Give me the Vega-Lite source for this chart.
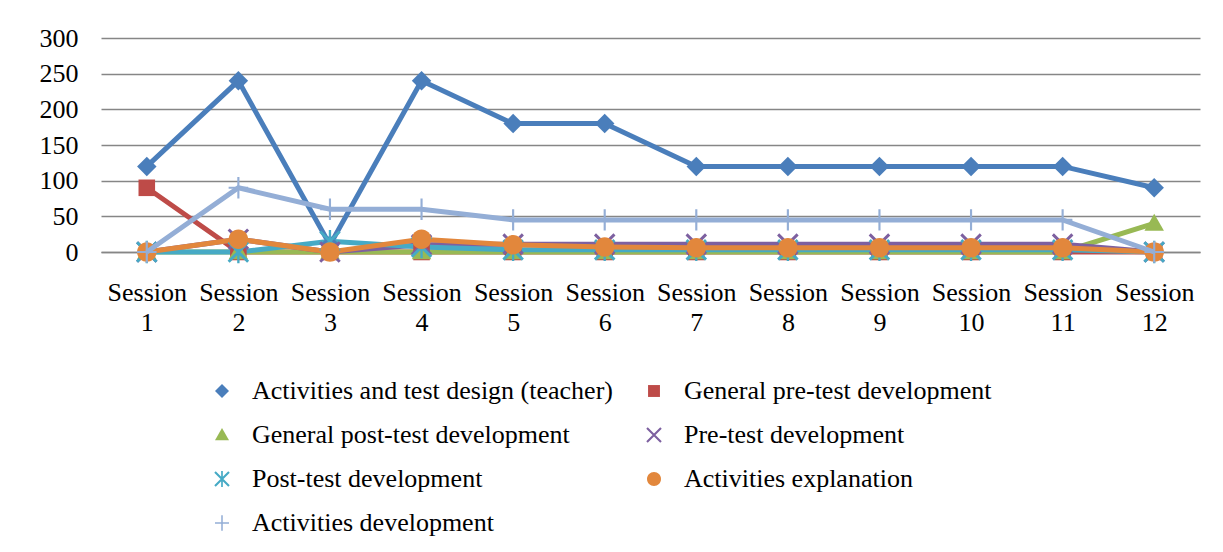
{
  "$schema": "https://vega.github.io/schema/vega-lite/v6.json",
  "width": 1099,
  "height": 214,
  "autosize": {"type": "none"},
  "padding": {"left": 101, "top": 38, "right": 23, "bottom": 300},
  "background": "white",
  "config": {
    "font": "Liberation Serif",
    "view": {"stroke": null},
    "axis": {"labelFont": "Liberation Serif", "labelFontSize": 26, "labelColor": "#000000", "titleFontSize": 26},
    "legend": {"labelFont": "Liberation Serif", "labelFontSize": 26, "labelColor": "#000000", "symbolOpacity": 1, "labelLimit": 800, "symbolStrokeWidth": 0}
  },
  "data": {
    "values": [
      {"session": "Session 1", "series": "Activities and test design (teacher)", "value": 120},
      {"session": "Session 2", "series": "Activities and test design (teacher)", "value": 240},
      {"session": "Session 3", "series": "Activities and test design (teacher)", "value": 10},
      {"session": "Session 4", "series": "Activities and test design (teacher)", "value": 240},
      {"session": "Session 5", "series": "Activities and test design (teacher)", "value": 180},
      {"session": "Session 6", "series": "Activities and test design (teacher)", "value": 180},
      {"session": "Session 7", "series": "Activities and test design (teacher)", "value": 120},
      {"session": "Session 8", "series": "Activities and test design (teacher)", "value": 120},
      {"session": "Session 9", "series": "Activities and test design (teacher)", "value": 120},
      {"session": "Session 10", "series": "Activities and test design (teacher)", "value": 120},
      {"session": "Session 11", "series": "Activities and test design (teacher)", "value": 120},
      {"session": "Session 12", "series": "Activities and test design (teacher)", "value": 90},
      {"session": "Session 1", "series": "General pre-test development", "value": 90},
      {"session": "Session 2", "series": "General pre-test development", "value": 0},
      {"session": "Session 3", "series": "General pre-test development", "value": 0},
      {"session": "Session 4", "series": "General pre-test development", "value": 0},
      {"session": "Session 5", "series": "General pre-test development", "value": 0},
      {"session": "Session 6", "series": "General pre-test development", "value": 0},
      {"session": "Session 7", "series": "General pre-test development", "value": 0},
      {"session": "Session 8", "series": "General pre-test development", "value": 0},
      {"session": "Session 9", "series": "General pre-test development", "value": 0},
      {"session": "Session 10", "series": "General pre-test development", "value": 0},
      {"session": "Session 11", "series": "General pre-test development", "value": 0},
      {"session": "Session 12", "series": "General pre-test development", "value": 0},
      {"session": "Session 1", "series": "General post-test development", "value": 0},
      {"session": "Session 2", "series": "General post-test development", "value": 0},
      {"session": "Session 3", "series": "General post-test development", "value": 0},
      {"session": "Session 4", "series": "General post-test development", "value": 0},
      {"session": "Session 5", "series": "General post-test development", "value": 0},
      {"session": "Session 6", "series": "General post-test development", "value": 0},
      {"session": "Session 7", "series": "General post-test development", "value": 0},
      {"session": "Session 8", "series": "General post-test development", "value": 0},
      {"session": "Session 9", "series": "General post-test development", "value": 0},
      {"session": "Session 10", "series": "General post-test development", "value": 0},
      {"session": "Session 11", "series": "General post-test development", "value": 0},
      {"session": "Session 12", "series": "General post-test development", "value": 40},
      {"session": "Session 1", "series": "Pre-test development", "value": 0},
      {"session": "Session 2", "series": "Pre-test development", "value": 18},
      {"session": "Session 3", "series": "Pre-test development", "value": 0},
      {"session": "Session 4", "series": "Pre-test development", "value": 10},
      {"session": "Session 5", "series": "Pre-test development", "value": 11},
      {"session": "Session 6", "series": "Pre-test development", "value": 11},
      {"session": "Session 7", "series": "Pre-test development", "value": 11},
      {"session": "Session 8", "series": "Pre-test development", "value": 11},
      {"session": "Session 9", "series": "Pre-test development", "value": 11},
      {"session": "Session 10", "series": "Pre-test development", "value": 11},
      {"session": "Session 11", "series": "Pre-test development", "value": 11},
      {"session": "Session 12", "series": "Pre-test development", "value": 0},
      {"session": "Session 1", "series": "Post-test development", "value": 0},
      {"session": "Session 2", "series": "Post-test development", "value": 0},
      {"session": "Session 3", "series": "Post-test development", "value": 15},
      {"session": "Session 4", "series": "Post-test development", "value": 7},
      {"session": "Session 5", "series": "Post-test development", "value": 3},
      {"session": "Session 6", "series": "Post-test development", "value": 3},
      {"session": "Session 7", "series": "Post-test development", "value": 3},
      {"session": "Session 8", "series": "Post-test development", "value": 3},
      {"session": "Session 9", "series": "Post-test development", "value": 3},
      {"session": "Session 10", "series": "Post-test development", "value": 3},
      {"session": "Session 11", "series": "Post-test development", "value": 3},
      {"session": "Session 12", "series": "Post-test development", "value": 0},
      {"session": "Session 1", "series": "Activities explanation", "value": 0},
      {"session": "Session 2", "series": "Activities explanation", "value": 18},
      {"session": "Session 3", "series": "Activities explanation", "value": 0},
      {"session": "Session 4", "series": "Activities explanation", "value": 18},
      {"session": "Session 5", "series": "Activities explanation", "value": 10},
      {"session": "Session 6", "series": "Activities explanation", "value": 7},
      {"session": "Session 7", "series": "Activities explanation", "value": 6},
      {"session": "Session 8", "series": "Activities explanation", "value": 6},
      {"session": "Session 9", "series": "Activities explanation", "value": 6},
      {"session": "Session 10", "series": "Activities explanation", "value": 6},
      {"session": "Session 11", "series": "Activities explanation", "value": 6},
      {"session": "Session 12", "series": "Activities explanation", "value": 0},
      {"session": "Session 1", "series": "Activities development", "value": 0},
      {"session": "Session 2", "series": "Activities development", "value": 90},
      {"session": "Session 3", "series": "Activities development", "value": 60},
      {"session": "Session 4", "series": "Activities development", "value": 60},
      {"session": "Session 5", "series": "Activities development", "value": 45},
      {"session": "Session 6", "series": "Activities development", "value": 45},
      {"session": "Session 7", "series": "Activities development", "value": 45},
      {"session": "Session 8", "series": "Activities development", "value": 45},
      {"session": "Session 9", "series": "Activities development", "value": 45},
      {"session": "Session 10", "series": "Activities development", "value": 45},
      {"session": "Session 11", "series": "Activities development", "value": 45},
      {"session": "Session 12", "series": "Activities development", "value": 0}
    ]
  },
  "encoding": {
    "x": {
      "field": "session", "type": "nominal", "sort": null,
      "scale": {"type": "point", "padding": 0.5},
      "axis": {"title": null, "labelAngle": 0, "ticks": false, "domain": true, "domainColor": "#868686", "domainWidth": 1.5, "labelPadding": 27, "labelLineHeight": 30, "labelBaseline": "top", "labelExpr": "split(datum.label, ' ')"}
    },
    "y": {
      "field": "value", "type": "quantitative",
      "scale": {"domain": [0, 300], "nice": false},
      "axis": {"title": null, "values": [0, 50, 100, 150, 200, 250, 300], "domain": false, "ticks": false, "grid": true, "gridColor": "#868686", "gridWidth": 1.5, "labelPadding": 23}
    },
    "color": {
      "field": "series", "type": "nominal",
      "scale": {
        "domain": ["Activities and test design (teacher)", "General pre-test development", "General post-test development", "Pre-test development", "Post-test development", "Activities explanation", "Activities development"],
        "range": ["#4A7EBB", "#BE4B48", "#98B954", "#7D60A0", "#46AAC5", "#E2873C", "#94AED6"]
      },
      "legend": {
        "title": null, "orient": "none", "legendX": 108, "legendY": 340, "columns": 2, "direction": "horizontal",
        "symbolSize": 196, "labelOffset": 17, "rowPadding": 18, "columnPadding": 28, "padding": 0
      }
    }
  },
  "layer": [
    {
      "transform": [{"filter": "datum.series !== 'Activities development'"}],
      "mark": {"type": "line", "strokeWidth": 5}
    },
    {
      "transform": [{"filter": "datum.series !== 'Activities development'"}],
      "mark": {"type": "point", "filled": true, "opacity": 1, "size": 380},
      "encoding": {
        "shape": {
          "field": "series", "type": "nominal",
          "scale": {
            "domain": ["Activities and test design (teacher)", "General pre-test development", "General post-test development", "Pre-test development", "Post-test development", "Activities explanation", "Activities development"],
            "range": [
              "M0,-1L1,0L0,1L-1,0Z",
              "M-0.85,-0.85H0.85V0.85H-0.85Z",
              "M0,-1L1,0.75L-1,0.75Z",
              "M-0.894,-1.106L1.106,0.894L0.894,1.106L-1.106,-0.894Z M-1.106,0.894L0.894,-1.106L1.106,-0.894L-0.894,1.106Z",
              "M-0.894,-1.106L1.106,0.894L0.894,1.106L-1.106,-0.894Z M-1.106,0.894L0.894,-1.106L1.106,-0.894L-0.894,1.106Z M-0.12,-1.15H0.12V1.15H-0.12Z",
              "M-1,0A1,1 0 1,1 1,0A1,1 0 1,1 -1,0Z",
              "M-0.11,-1.1H0.11V1.1H-0.11Z M-1,-0.11H1V0.11H-1Z"
            ]
          },
          "legend": {
            "title": null, "orient": "none", "legendX": 108, "legendY": 340, "columns": 2, "direction": "horizontal",
            "symbolSize": 196, "labelOffset": 17, "rowPadding": 18, "columnPadding": 28, "padding": 0,
            "encode": {"symbols": {"shape": {"value": {"expr": "'M-4.2,-0.32H4.2V0.32H-4.2Z ' + (datum.value === 'Activities and test design (teacher)' ? 'M0,-1L1,0L0,1L-1,0Z' : datum.value === 'General pre-test development' ? 'M-0.85,-0.85H0.85V0.85H-0.85Z' : datum.value === 'General post-test development' ? 'M0,-1L1,0.75L-1,0.75Z' : datum.value === 'Pre-test development' ? 'M-0.894,-1.106L1.106,0.894L0.894,1.106L-1.106,-0.894Z M-1.106,0.894L0.894,-1.106L1.106,-0.894L-0.894,1.106Z' : datum.value === 'Post-test development' ? 'M-0.894,-1.106L1.106,0.894L0.894,1.106L-1.106,-0.894Z M-1.106,0.894L0.894,-1.106L1.106,-0.894L-0.894,1.106Z M-0.12,-1.15H0.12V1.15H-0.12Z' : datum.value === 'Activities explanation' ? 'M-1,0A1,1 0 1,1 1,0A1,1 0 1,1 -1,0Z' : 'M-0.11,-1.1H0.11V1.1H-0.11Z M-1,-0.11H1V0.11H-1Z')"}}}}
          }
        }
      }
    },
    {
      "transform": [{"filter": "datum.series === 'Activities development'"}],
      "mark": {"type": "line", "strokeWidth": 5}
    },
    {
      "transform": [{"filter": "datum.series === 'Activities development'"}],
      "mark": {"type": "point", "filled": true, "opacity": 1, "size": 380},
      "encoding": {
        "shape": {"field": "series", "type": "nominal"}
      }
    }
  ]
}
